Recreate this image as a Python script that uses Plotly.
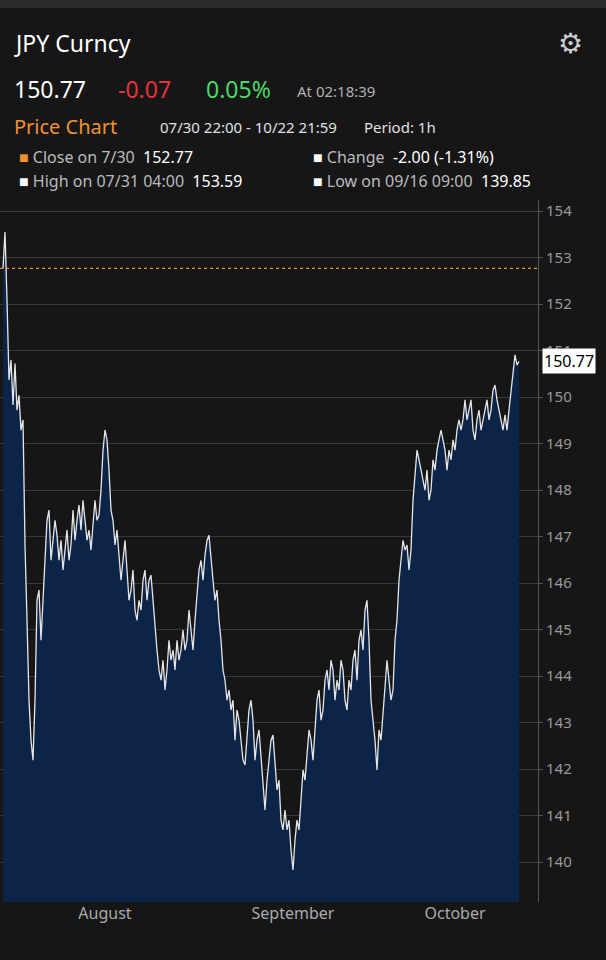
import plotly.graph_objects as go

# hourly-ish JPY close values, 07/30 -> 10/22
prices = [152.77,153.55,152.09,150.37,150.80,149.83,150.72,149.72,150.04,149.29,149.51,146.82,145.20,143.48,142.62,142.19,143.48,145.63,145.85,144.77,
145.63,146.49,147.35,147.57,146.49,146.92,147.35,147.03,146.49,146.92,146.28,146.71,147.14,146.49,146.82,147.57,146.92,147.35,147.68,147.14,
147.78,147.35,146.92,147.14,146.71,147.25,147.78,147.35,147.46,148.00,148.86,149.29,149.08,148.43,147.57,147.35,146.82,147.14,146.49,146.06,
146.49,146.92,146.28,145.63,145.85,146.28,145.42,145.20,145.63,145.42,146.06,146.28,145.63,146.06,146.17,145.63,144.99,144.56,144.13,143.91,
144.34,143.70,144.13,144.77,144.34,144.56,144.13,144.77,144.34,144.56,144.99,144.56,144.77,145.42,144.99,144.56,145.20,145.85,146.28,146.49,
146.06,146.60,146.92,147.03,146.49,146.06,145.63,145.85,145.20,144.77,144.13,143.91,143.48,143.70,143.27,143.48,142.62,143.27,143.05,142.62,
142.19,142.09,142.62,143.27,143.48,143.05,142.19,142.62,142.84,142.19,141.55,141.12,141.76,142.19,142.62,142.73,142.19,141.55,141.76,140.90,
140.69,141.12,140.69,140.90,140.26,139.83,140.47,140.90,140.69,141.33,141.98,141.76,142.41,142.84,142.62,142.19,142.84,143.48,143.70,143.05,
143.27,143.91,144.13,143.70,144.34,144.13,143.48,143.91,143.70,144.34,144.13,143.48,143.27,143.91,143.70,144.34,144.56,143.91,144.77,144.99,
144.56,145.42,145.63,144.77,143.48,143.05,142.62,141.98,142.84,142.62,143.27,143.70,144.34,143.91,143.48,143.70,144.77,145.20,146.06,146.49,
146.92,146.71,146.82,146.28,146.71,147.78,148.43,148.86,148.65,148.43,148.21,148.00,148.43,147.78,148.00,148.65,148.43,148.86,149.08,149.29,
149.08,148.86,148.43,148.86,148.65,149.08,148.86,149.29,149.51,149.29,149.51,149.94,149.51,149.72,149.94,149.29,149.08,149.51,149.72,149.29,
149.51,149.72,149.94,149.51,149.72,150.15,150.26,149.94,149.72,149.51,149.29,149.62,149.29,149.72,150.15,150.58,150.91,150.69,150.77]
month_labels = ["August", "September", "October"]
month_idx = [51, 145, 226]
close_first = 152.77
last = 150.77

W, H = 606, 960
L, R, T, B = 0, 538, 200, 902
BG = "#161616"

def px(x):
    return (x - L) / (R - L)

def py(y):
    return (B - y) / (B - T)

fig = go.Figure()
fig.add_trace(go.Scatter(x=list(range(len(prices))), y=prices, mode="lines",
                         line=dict(color="#e6e6e6", width=1.3),
                         fill="tozeroy", fillcolor="#0b2448"))
fig.add_hline(y=close_first, line=dict(color="#f0922b", width=1.2, dash="dot"))

anns = []
def txt(x, y, s, size=16, color="#ffffff", anchor="left"):
    anns.append(dict(x=px(x - 3), y=py(y), xref="paper", yref="paper", text=s, showarrow=False,
                     xanchor=anchor, yanchor="middle", font=dict(size=size, color=color)))

txt(15, 43, "JPY Curncy", 23)
txt(15, 89, "150.77", 23)
txt(119, 89, "-0.07", 23, "#e8323c")
txt(207, 89, "0.05%", 23, "#4cd964")
txt(298, 91, "At 02:18:39", 15, "#b0b0b0")
txt(15, 126, "Price Chart", 20, "#f0922b")
txt(161, 127, "07/30 22:00 - 10/22 21:59", 15, "#e0e0e0")
txt(365, 127, "Period: 1h", 15, "#e0e0e0")
txt(20, 157, "<span style='color:#f0922b'>■</span> <span style='color:#bbbbbb'>Close on 7/30</span>  152.77")
txt(314, 157, "■ <span style='color:#bbbbbb'>Change</span>  -2.00 (-1.31%)")
txt(20, 181, "■ <span style='color:#bbbbbb'>High on 07/31 04:00</span>  153.59")
txt(314, 181, "■ <span style='color:#bbbbbb'>Low on 09/16 09:00</span>  139.85")
txt(573, 42, "⚙", 28, "#cccccc", "center")

anns.append(dict(x=1, y=last, xref="paper", yref="y", text="150.77", showarrow=False,
                 xanchor="left", xshift=4, bgcolor="#ffffff", font=dict(size=16, color="#000000"),
                 borderpad=1))

fig.update_layout(
    width=W, height=H, paper_bgcolor=BG, plot_bgcolor=BG,
    margin=dict(l=L, r=W - R, t=T, b=H - B),
    showlegend=False, annotations=anns,
    font=dict(family="Noto Sans", color="#ffffff"),
    shapes=[dict(type="line", xref="paper", yref="y", x0=0.965, x1=1.0, y0=last, y1=last,
                 line=dict(color="#f0922b", width=1.5)),
            dict(type="rect", xref="paper", yref="paper", x0=0, x1=W / (R - L), y0=1 + 192 / (B - T),
                 y1=1 + 202 / (B - T), fillcolor="#2b2b2b", line_width=0, layer="below")],
)
fig.update_xaxes(range=[-1.5, 267.5], tickvals=month_idx, ticktext=month_labels,
                 showgrid=False, zeroline=False, tickfont=dict(size=16, color="#aaaaaa"),
                 ticks="", showline=False)
fig.update_yaxes(range=[139.14, 154.24], side="right", dtick=1, gridcolor="#383838",
                 zeroline=False, showline=True, linecolor="#555555", mirror=False,
                 tickfont=dict(size=15, color="#999999"), ticks="outside", ticklen=4,
                 tickcolor="#555555")

fig.write_html("out.html", config={"displayModeBar": False},
               post_script="document.body.style.margin='0';document.body.style.background='#161616';")
